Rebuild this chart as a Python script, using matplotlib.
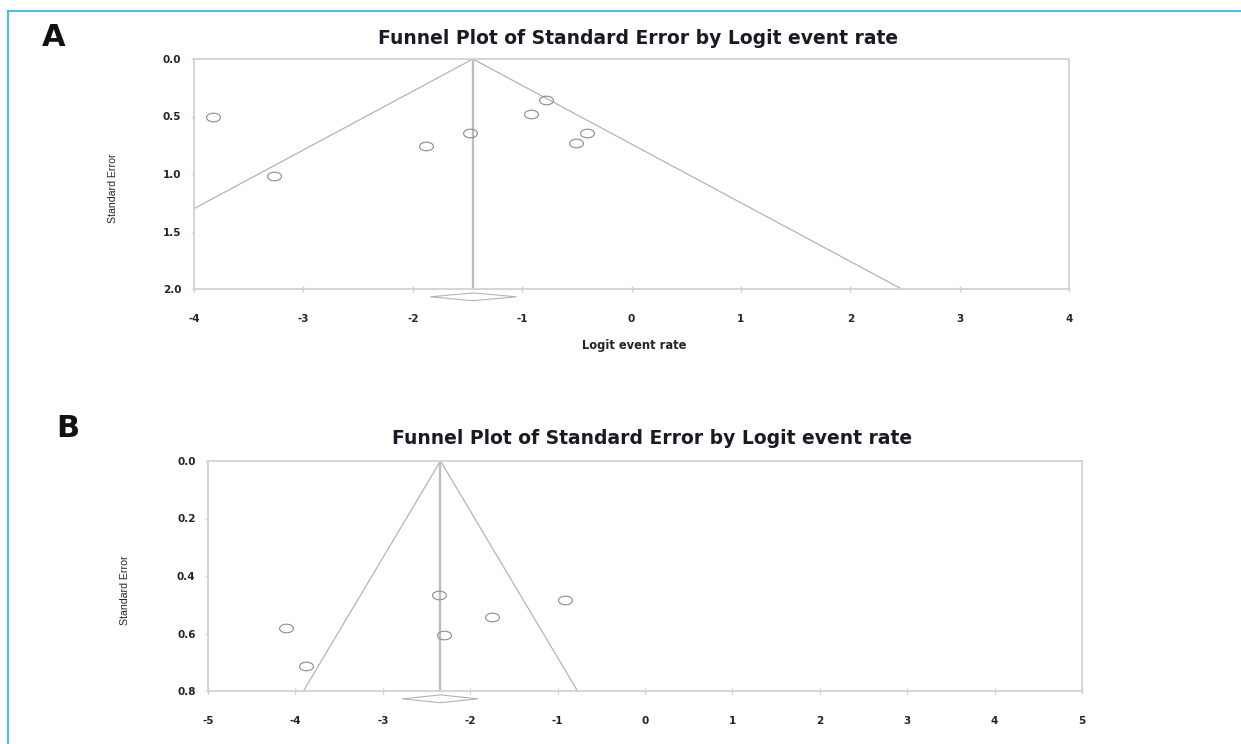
import numpy as np
import matplotlib
matplotlib.use("Agg")
import matplotlib.pyplot as plt
from matplotlib.path import Path
from matplotlib.patches import Polygon
from matplotlib.lines import Line2D
import matplotlib.transforms as mtransforms

# ---------------- data ----------------
# Panel A
a_logit = [-3.83, -3.27, -1.88, -1.48, -0.92, -0.78, -0.51, -0.41]
a_se = [0.50, 1.02, 0.76, 0.64, 0.48, 0.36, 0.73, 0.645]
a_summary = -1.45
a_ci = (-1.84, -1.05)
a_se_max = 2.0
a_xticks = [-4, -3, -2, -1, 0, 1, 2, 3, 4]
a_yticks = [0.0, 0.5, 1.0, 1.5, 2.0]

# Panel B
b_logit = [-4.11, -3.88, -2.36, -2.30, -1.75, -0.91]
b_se = [0.58, 0.712, 0.467, 0.605, 0.542, 0.482]
b_summary = -2.34
b_ci = (-2.78, -1.91)
b_se_max = 0.8
b_xticks = [-5, -4, -3, -2, -1, 0, 1, 2, 3, 4, 5]
b_yticks = [0.0, 0.2, 0.4, 0.6, 0.8]

title_text = "Funnel Plot of Standard Error by Logit event rate"
z = 1.96

W, H = 1241, 744
fig = plt.figure(figsize=(W / 100, H / 100), dpi=100)
fig.patch.set_facecolor("white")

WIDE = ["DejaVu Sans"]
NARROW = ["Liberation Sans Narrow", "Liberation Sans", "DejaVu Sans"]

# ellipse marker
circ = Path.unit_circle()
ell = Path(circ.vertices * np.array([1.0, 0.62]), circ.codes)

def px_rect(l, r, t, b):
    return [l / W, 1 - b / H, (r - l) / W, (b - t) / H]

def panel(rect, xs, ys, summary, ci, se_max, xticks, yticks, xlim, ydec):
    ax = fig.add_axes(rect)
    ax.set_xlim(*xlim)
    ax.set_ylim(se_max, 0)
    for s in ax.spines.values():
        s.set_color("#d2d2d2")
        s.set_linewidth(1.3)
    # funnel
    ax.plot([summary - z * se_max, summary, summary + z * se_max],
            [se_max, 0, se_max], color="#b4b4b4", lw=0.9, zorder=2)
    ax.plot([summary, summary], [0, se_max], color="#bdbdbd", lw=1.7, zorder=2)
    ax.plot(xs, ys, linestyle="none", marker=ell, markersize=10,
            markerfacecolor="none", markeredgecolor="#8c8c8c",
            markeredgewidth=0.8, zorder=3)
    # summary diamond below axis
    tr = mtransforms.blended_transform_factory(ax.transData, ax.transAxes)
    yc, hh = -0.034, 0.017
    dia = Polygon([[ci[0], yc], [summary, yc + hh], [ci[1], yc], [summary, yc - hh]],
                  closed=True, transform=tr, clip_on=False,
                  facecolor="white", edgecolor="#b4b4b4", lw=0.8)
    ax.add_patch(dia)
    ax.set_xticks(xticks)
    ax.set_xticklabels([str(t) for t in xticks])
    ax.set_yticks(yticks)
    ax.set_yticklabels([f"{t:.{ydec}f}" for t in yticks])
    ax.tick_params(axis="x", direction="inout", length=4, width=1, color="#cfcfcf",
                   pad=16, labelsize=7.5, labelcolor="#23232b")
    ax.tick_params(axis="y", direction="out", length=2, width=1, color="#dcdcdc",
                   pad=7, labelsize=7.5, labelcolor="#23232b")
    for lab in ax.get_xticklabels() + ax.get_yticklabels():
        lab.set_fontweight("bold")
        lab.set_family(WIDE)
    return ax

axA = panel(px_rect(194, 1069, 59, 289), a_logit, a_se, a_summary, a_ci, a_se_max,
            a_xticks, a_yticks, (-4, 4), 1)
axB = panel(px_rect(208, 1082, 461, 691), b_logit, b_se, b_summary, b_ci, b_se_max,
            b_xticks, b_yticks, (-5, 5), 1)

# titles and labels
fig.text(638 / W, 1 - 38 / H, title_text, ha="center", va="center",
         fontsize=13.5, fontweight="bold", family=WIDE, color="#1a1a24")
fig.text(652 / W, 1 - 439 / H, title_text, ha="center", va="center",
         fontsize=13.5, fontweight="bold", family=WIDE, color="#1a1a24")
fig.text(54 / W, 1 - 38 / H, "A", ha="center", va="center",
         fontsize=22, fontweight="bold", family=WIDE, color="#111111")
fig.text(68 / W, 1 - 428 / H, "B", ha="center", va="center",
         fontsize=22, fontweight="bold", family=WIDE, color="#111111")
fig.text(113 / W, 1 - 188 / H, "Standard Error", rotation=90, ha="center", va="center",
         fontsize=7.6, family=NARROW, color="#23232b")
fig.text(125 / W, 1 - 590 / H, "Standard Error", rotation=90, ha="center", va="center",
         fontsize=7.6, family=NARROW, color="#23232b")
fig.text(634 / W, 1 - 346 / H, "Logit event rate", ha="center", va="center",
         fontsize=8.3, fontweight="bold", family=WIDE, color="#23232b")

# blue frame (top and left)
fig.add_artist(Line2D([8 / W, 1.0], [1 - 11 / H, 1 - 11 / H], transform=fig.transFigure,
                      color="#3ab4ea", lw=1.3))
fig.add_artist(Line2D([8 / W, 8 / W], [1 - 11 / H, 0.0], transform=fig.transFigure,
                      color="#3ab4ea", lw=1.3))

fig.savefig("out.png", dpi=100)
